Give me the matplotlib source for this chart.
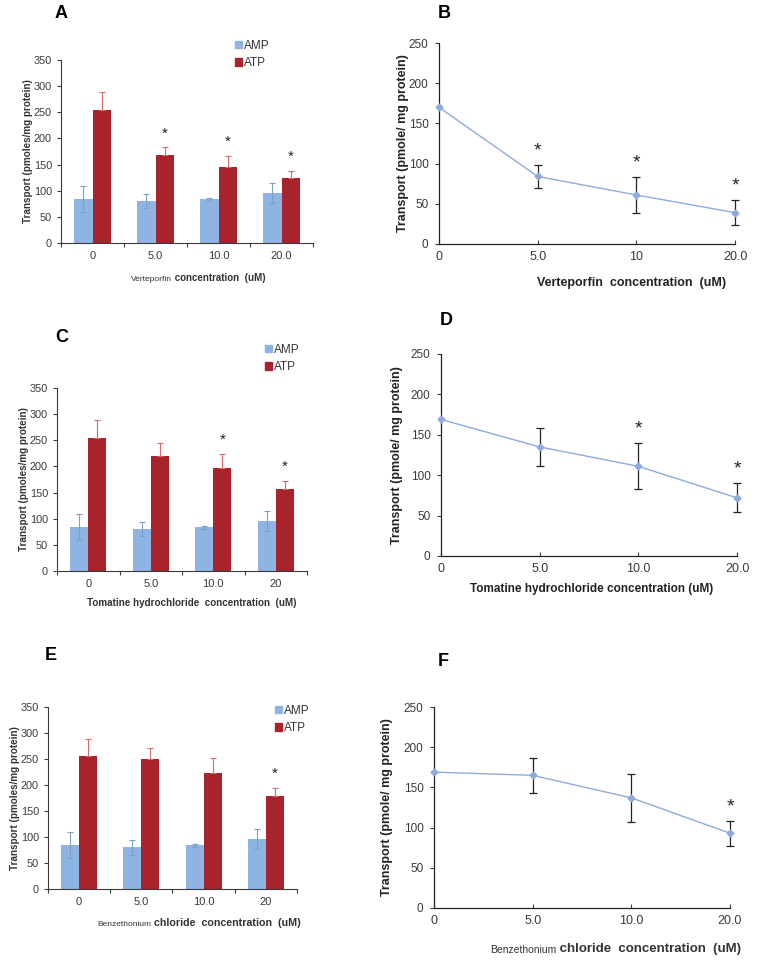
import numpy as np
import matplotlib
matplotlib.use("Agg")
import matplotlib.pyplot as plt
from matplotlib.patches import Patch

plt.rcParams['font.family'] = ['Liberation Sans', 'DejaVu Sans']

# bar panels (A, C, E)
amp_mean = [84, 80, 84, 96]
amp_err = [25, 14, 3, 19]
atp_A = [255, 169, 146, 124]
atp_A_err = [33, 14, 21, 14]
atp_C = [254, 219, 197, 156]
atp_C_err = [34, 25, 27, 17]
atp_E = [255, 250, 223, 179]
atp_E_err = [33, 21, 29, 15]
ticks_A = ["0", "5.0", "10.0", "20.0"]
ticks_C = ["0", "5.0", "10.0", "20"]
ticks_E = ["0", "5.0", "10.0", "20"]
stars_A = [1, 2, 3]
stars_C = [2, 3]
stars_E = [3]

# line panels (B, D, F)
line_B = [170, 84, 61, 39]
line_B_err = [0, 14, 22, 15.5]
line_D = [169, 135, 111, 72]
line_D_err = [0, 23.5, 28.5, 18]
line_F = [169, 165, 137, 93]
line_F_err = [0, 21.5, 30, 15.5]
ticks_B = ["0", "5.0", "10", "20.0"]
ticks_D = ["0", "5.0", "10.0", "20.0"]
ticks_F = ["0", "5.0", "10.0", "20.0"]
stars_B = [1, 2, 3]
stars_D = [2, 3]
stars_F = [3]

amp_col = "#8db4e2"
atp_col = "#a8232b"
line_col = "#8faadc"
grey = "#3a3a3a"

fig = plt.figure(figsize=(7.59, 9.65), dpi=100)
W, H = 759, 965


def fig_axes(l, t, r, b):
    return fig.add_axes([l / W, 1 - b / H, (r - l) / W, (b - t) / H])


def bar_panel(box, atp, atp_err, labels, stars, legpos, lab_x):
    ax = fig_axes(*box)
    x = np.arange(4)
    w = 0.29
    ax.bar(x - w / 2, amp_mean, w, color=amp_col, zorder=2)
    ax.bar(x + w / 2, atp, w, color=atp_col, zorder=2)
    ax.errorbar(x - w / 2, amp_mean, yerr=amp_err, fmt="none", ecolor="#7f9fc6",
                elinewidth=0.8, capsize=2, capthick=0.8, zorder=3)
    ax.errorbar(x + w / 2, atp, yerr=[np.zeros(4), atp_err], fmt="none",
                ecolor="#d46a6a", elinewidth=0.8, capsize=2, capthick=0.8, zorder=3)
    for i in stars:
        ax.annotate("*", (x[i] + w / 2, atp[i] + atp_err[i]), xytext=(0, 5),
                    textcoords="offset points", ha="center", va="bottom",
                    fontsize=11, color="#222222")
    ax.set_xlim(-0.5, 3.5)
    ax.set_ylim(0, 350)
    ax.set_yticks(range(0, 351, 50))
    ax.set_xticks(np.arange(-0.5, 4, 1))
    ax.set_xticklabels([])
    ax.set_xticks(x, minor=True)
    ax.set_xticklabels(labels, minor=True)
    ax.tick_params(axis="x", which="minor", length=0, pad=6, labelsize=8, colors=grey)
    ax.tick_params(axis="x", which="major", length=3, width=0.8, color=grey)
    ax.tick_params(axis="y", length=3, width=0.8, labelsize=7.8, colors=grey)
    for s in ["top", "right"]:
        ax.spines[s].set_visible(False)
    for s in ["left", "bottom"]:
        ax.spines[s].set_color(grey)
        ax.spines[s].set_linewidth(0.8)
    ax.set_ylabel("Transport (pmoles/mg protein)", fontsize=7.1, fontweight="bold",
                  color="#333333")
    ax.yaxis.set_label_coords(lab_x, 0.5)
    handles = [Patch(color=amp_col), Patch(color=atp_col)]
    fig.legend(handles, ["AMP", "ATP"], loc="upper left",
               bbox_to_anchor=(legpos[0] / W, 1 - legpos[1] / H), frameon=False,
               fontsize=8.5, handlelength=0.6, handleheight=0.6, handletextpad=0.2,
               labelspacing=0.45, borderpad=0, labelcolor="#333333")
    return ax


def line_panel(box, vals, errs, labels, stars, lab_x):
    ax = fig_axes(*box)
    x = np.arange(4)
    ax.plot(x, vals, color=line_col, lw=1, marker="D", ms=3.5, zorder=3, clip_on=False)
    eb = ax.errorbar(x[1:], vals[1:], yerr=errs[1:], fmt="none", ecolor="#222222",
                     elinewidth=0.9, capsize=3, capthick=0.9, zorder=2)
    for art in eb.lines[1] + eb.lines[2]:
        art.set_clip_on(False)
    for i in stars:
        ax.annotate("*", (x[i], vals[i] + errs[i]), xytext=(0, 4),
                    textcoords="offset points", ha="center", va="bottom",
                    fontsize=14, color="#222222")
    ax.set_xlim(0, 3)
    ax.set_ylim(0, 250)
    ax.set_yticks(range(0, 251, 50))
    ax.set_xticks(x)
    ax.set_xticklabels(labels)
    ax.tick_params(axis="x", direction="in", length=3, width=0.8, pad=5,
                   labelsize=9, colors=grey)
    ax.tick_params(axis="y", direction="out", length=3, width=0.8, pad=4.5,
                   labelsize=8.5, colors=grey)
    for s in ["top", "right"]:
        ax.spines[s].set_visible(False)
    for s in ["left", "bottom"]:
        ax.spines[s].set_color("#222222")
        ax.spines[s].set_linewidth(0.9)
    ax.set_ylabel("Transport (pmole/ mg protein)", fontsize=9, fontweight="bold",
                  color="#222222")
    ax.yaxis.set_label_coords(lab_x, 0.5)
    return ax


def two_part_label(x, y, first, second, s1, s2):
    t = fig.text(x / W, 1 - y / H, first, fontsize=s1, color="#333333",
                 ha="left", va="baseline")
    plt.annotate(second, xy=(1, 0), xycoords=t, fontsize=s2, fontweight="bold",
                 color="#333333", ha="left", va="bottom", annotation_clip=False)


axA = bar_panel((61, 60, 313, 243), atp_A, atp_A_err, ticks_A, stars_A, (229, 34), -0.11)
axC = bar_panel((57, 388, 307, 571), atp_C, atp_C_err, ticks_C, stars_C, (259, 338), -0.11)
axE = bar_panel((48, 707, 297, 889), atp_E, atp_E_err, ticks_E, stars_E, (269, 699), -0.114)

axB = line_panel((439, 43, 735, 244), line_B, line_B_err, ticks_B, stars_B, -0.1)
axD = line_panel((441, 354, 737, 556), line_D, line_D_err, ticks_D, stars_D, -0.128)
axF = line_panel((434, 707, 730, 908), line_F, line_F_err, ticks_F, stars_F, -0.139)

# x labels
two_part_label(131, 281, "Verteporfin", " concentration  (uM)", 6, 7)
fig.text(192 / W, 1 - 603 / H, "Tomatine hydrochloride  concentration  (uM)",
         fontsize=7.1, fontweight="bold", color="#333333", ha="center", va="center")
two_part_label(97, 926, "Benzethonium", " chloride  concentration  (uM)", 6, 7.7)
fig.text(632 / W, 1 - 283 / H, "Verteporfin  concentration  (uM)",
         fontsize=9, fontweight="bold", color="#222222", ha="center", va="center")
fig.text(592 / W, 1 - 589 / H, "Tomatine hydrochloride concentration (uM)",
         fontsize=8.5, fontweight="bold", color="#222222", ha="center", va="center")
two_part_label(490, 953, "Benzethonium", " chloride  concentration  (uM)", 7.5, 9.5)

# panel letters
for letter, (px, py) in zip("ABCDEF", [(55, 13), (438, 13), (55, 337),
                                       (440, 320), (45, 655), (438, 662)]):
    fig.text(px / W, 1 - py / H, letter, fontsize=13, fontweight="bold",
             ha="left", va="center")

fig.savefig("out.png", dpi=100)
